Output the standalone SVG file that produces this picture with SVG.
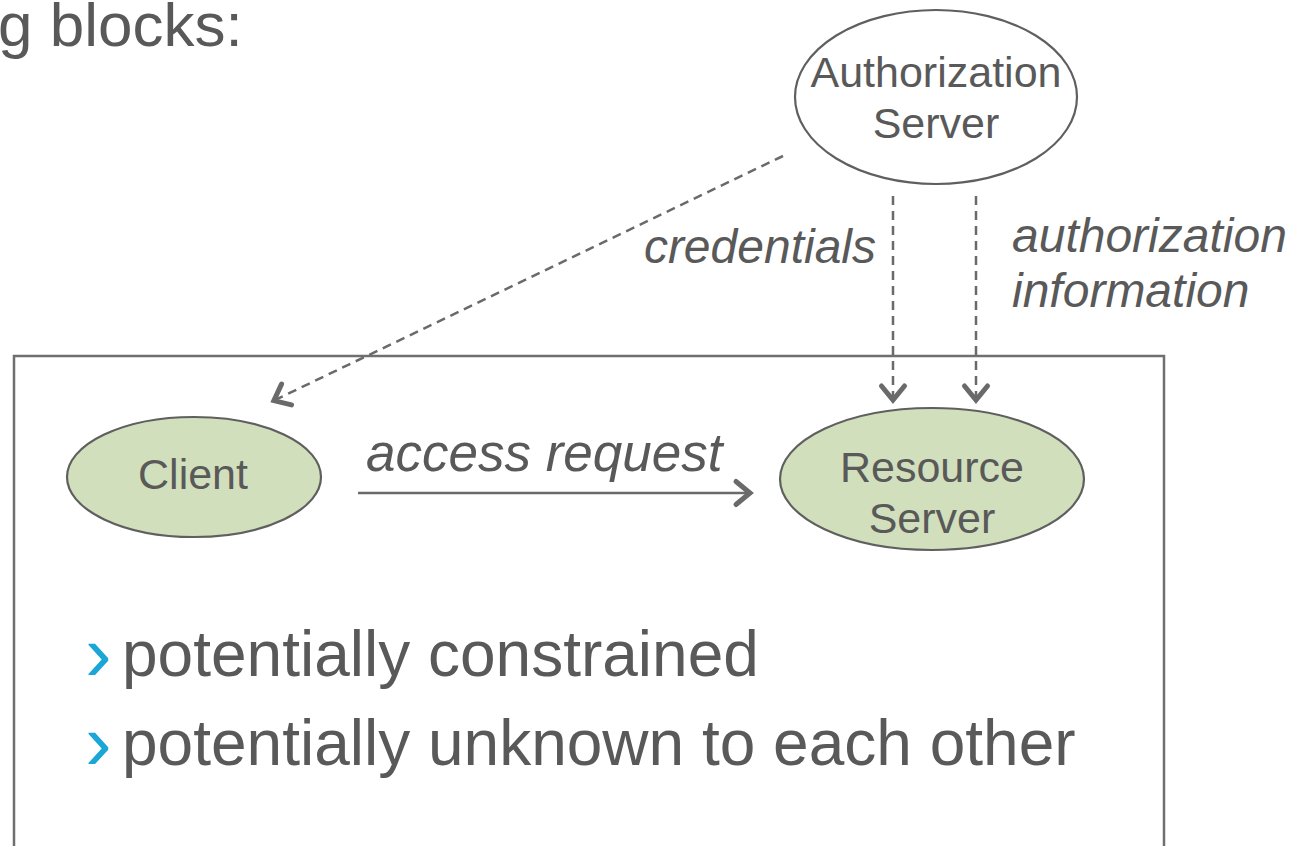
<svg xmlns="http://www.w3.org/2000/svg" width="1295" height="846" viewBox="0 0 1295 846">
  <style>
    .txt { font-family: "Liberation Sans", Arial, sans-serif; fill: #595959; }
    .lbl { font-style: italic; font-size: 48px; }
    .node { stroke: #5f5f5f; stroke-width: 2.2; }
    .green { fill: #d1dfbc; }
    .plain { fill: #ffffff; }
    .conn { fill: none; stroke: #6a6a6a; stroke-width: 2.5; }
    .dash { stroke-dasharray: 9 6; }
    .bullet { font-family: "Liberation Sans", Arial, sans-serif; fill: #1aa7d8; font-size: 80px; }
  </style>
  <defs>
    <marker id="head" markerUnits="userSpaceOnUse" markerWidth="36" markerHeight="36" viewBox="-19 -18 36 36" refX="0" refY="0" orient="auto">
      <path d="M-15,-11.5 L-1,0 L-15,11.5" fill="none" stroke="#6a6a6a" stroke-width="5" stroke-linecap="round" stroke-linejoin="miter" stroke-dasharray="none"/>
    </marker>
  </defs>

  <rect width="1295" height="846" fill="#ffffff"/>

  <!-- heading fragment -->
  <text class="txt" x="-2" y="46" font-size="62">g blocks:</text>

  <!-- constrained environment frame -->
  <rect x="14" y="356" width="1150" height="620" fill="none" stroke="#6f6f6f" stroke-width="2.5"/>

  <!-- connectors -->
  <g id="connectors">
    <line class="conn dash" x1="783" y1="156" x2="273" y2="401" marker-end="url(#head)"/>
    <line class="conn dash" x1="893" y1="196" x2="893" y2="401" marker-end="url(#head)"/>
    <line class="conn dash" x1="976" y1="196" x2="976" y2="401" marker-end="url(#head)"/>
    <line class="conn" x1="358" y1="493" x2="751" y2="493" marker-end="url(#head)"/>
    <text class="txt lbl" x="876" y="263" text-anchor="end">credentials</text>
    <text class="txt lbl" x="1012" y="252">authorization</text>
    <text class="txt lbl" x="1012" y="307">information</text>
    <text class="txt lbl" x="366" y="471" style="font-size:53px">access request</text>
  </g>

  <!-- nodes -->
  <g id="authorization-server">
    <ellipse class="node plain" cx="936" cy="97" rx="141" ry="87"/>
    <text class="txt" x="936" y="87" font-size="43" text-anchor="middle">Authorization</text>
    <text class="txt" x="936" y="138" font-size="43" text-anchor="middle">Server</text>
  </g>

  <g id="client">
    <ellipse class="node green" cx="194" cy="477" rx="127" ry="60"/>
    <text class="txt" x="193" y="489" font-size="43" text-anchor="middle">Client</text>
  </g>

  <g id="resource-server">
    <ellipse class="node green" cx="932" cy="479" rx="152" ry="71"/>
    <text class="txt" x="932" y="482" font-size="43" text-anchor="middle">Resource</text>
    <text class="txt" x="932" y="533" font-size="43" text-anchor="middle">Server</text>
  </g>

  <!-- bullet list -->
  <g id="notes">
    <text class="bullet" x="85" y="681">›</text>
    <text class="txt" x="122" y="676" font-size="64">potentially constrained</text>
    <text class="bullet" x="85" y="770">›</text>
    <text class="txt" x="122" y="765" font-size="64">potentially unknown to each other</text>
  </g>
</svg>
